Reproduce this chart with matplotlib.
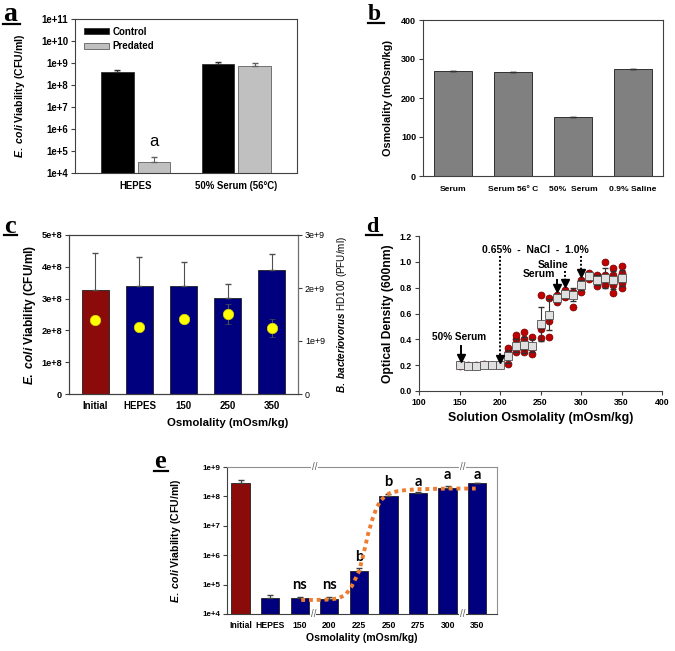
import matplotlib
matplotlib.use('Agg')
import matplotlib.pyplot as plt
import matplotlib.transforms as mtransforms
from matplotlib.lines import Line2D
import numpy as np

plt.rcParams['font.family'] = ['Liberation Sans', 'DejaVu Sans']
plt.rcParams['font.weight'] = 'bold'
plt.rcParams['font.size'] = 6.5
plt.rcParams['axes.labelweight'] = 'bold'
plt.rcParams['axes.linewidth'] = 0.8
plt.rcParams['mathtext.fontset'] = 'custom'
plt.rcParams['mathtext.it'] = 'Liberation Sans:italic:bold'
plt.rcParams['mathtext.rm'] = 'Liberation Sans:bold'

# ---------------- data ----------------
# panel a
a_groups = ['HEPES', '50% Serum (56°C)']
a_control = [3.7e8, 9.1e8]
a_control_err = [1.2e8, 1.9e8]
a_predated = [3.2e4, 7.4e8]
a_predated_err = [2.1e4, 2.4e8]
a_letter = ['a', '']
log_ticks_a = [1e4, 1e5, 1e6, 1e7, 1e8, 1e9, 1e10, 1e11]
log_labels_a = ['1e+4', '1e+5', '1e+6', '1e+7', '1e+8', '1e+9', '1e+10', '1e+11']

# panel b
b_cats = ['Serum', 'Serum 56° C', '50%  Serum', '0.9% Saline']
b_vals = [269, 266, 151, 274]
b_err = [1.5, 1.5, 0, 0]

# panel c
c_cats = ['Initial', 'HEPES', '150', '250', '350']
c_ecoli = [3.27e8, 3.41e8, 3.41e8, 3.03e8, 3.90e8]
c_ecoli_err = [1.15e8, 0.91e8, 0.74e8, 0.42e8, 0.50e8]
c_bdello = [1.39e9, 1.26e9, 1.41e9, 1.51e9, 1.24e9]
c_bdello_err = [0, 0, 0, 0.18e9, 0.17e9]

# panel d
d_x = [150, 160, 170, 180, 190, 200, 210, 220, 230, 240, 250,
       260, 270, 280, 290, 300, 310, 320, 330, 340, 350]
d_mean = [0.20, 0.195, 0.195, 0.20, 0.20, 0.205, 0.27, 0.35, 0.355, 0.35, 0.52,
          0.59, 0.72, 0.75, 0.745, 0.82, 0.89, 0.86, 0.875, 0.86, 0.875]
d_sd = [0.01, 0.01, 0.01, 0.01, 0.01, 0.01, 0.05, 0.05, 0.06, 0.05, 0.13,
        0.12, 0.03, 0.03, 0.05, 0.04, 0.02, 0.04, 0.075, 0.07, 0.065]
d_points = [
    [0.19, 0.20, 0.21], [0.19, 0.20], [0.19, 0.20], [0.20, 0.21], [0.20, 0.20],
    [0.20, 0.21], [0.21, 0.27, 0.30, 0.33], [0.30, 0.34, 0.40, 0.43],
    [0.30, 0.34, 0.40, 0.46], [0.29, 0.33, 0.35, 0.42], [0.41, 0.48, 0.50, 0.74],
    [0.42, 0.54, 0.58, 0.72], [0.69, 0.72, 0.74], [0.73, 0.76, 0.78],
    [0.65, 0.74, 0.77], [0.77, 0.82, 0.86], [0.87, 0.90, 0.91],
    [0.81, 0.86, 0.89, 0.90], [0.82, 0.87, 0.90, 1.00],
    [0.76, 0.82, 0.86, 0.90, 0.95], [0.80, 0.84, 0.88, 0.91, 0.97]]

# panel e
e_cats = ['Initial', 'HEPES', '150', '200', '225', '250', '275', '300', '350']
e_vals = [2.9e8, 3.4e4, 3.4e4, 3.2e4, 2.8e5, 1.07e8, 1.26e8, 1.95e8, 2.75e8]
e_err = [0.6e8, 1.0e4, 0.4e4, 0.5e4, 0.8e5, 0.18e8, 0.17e8, 0.35e8, 0.2e8]
e_letters = ['', '', 'ns', 'ns', 'b', 'b', 'a', 'a', 'a']
e_letter_y = [0, 0, 1.0e5, 1.0e5, 9.0e5, 3.2e8, 3.2e8, 5.2e8, 5.2e8]
e_fit_x = [2.05, 2.5, 3.0, 3.3, 3.55, 3.75, 3.9, 4.0, 4.1, 4.2, 4.3, 4.45, 4.6,
           4.75, 4.9, 5.05, 5.3, 5.6, 6.0, 7.0, 7.95]
e_fit_y = [3.0e4, 3.0e4, 3.1e4, 3.4e4, 4.5e4, 8.5e4, 1.7e5, 2.8e5, 6.5e5, 1.7e6,
           4.8e6, 1.6e7, 4.2e7, 7.5e7, 1.05e8, 1.3e8, 1.5e8, 1.65e8, 1.75e8,
           1.85e8, 1.85e8]
log_ticks_e = [1e4, 1e5, 1e6, 1e7, 1e8, 1e9]
log_labels_e = ['1e+4', '1e+5', '1e+6', '1e+7', '1e+8', '1e+9']

DARKRED = '#8B0A0A'
NAVY = '#00007F'
SPINE = '#404040'

W, H = 675, 651
fig = plt.figure(figsize=(W / 100, H / 100), dpi=100)


def rect(x0, x1, y0, y1):
    return [x0 / W, 1 - y1 / H, (x1 - x0) / W, (y1 - y0) / H]


def style(ax, spines=('left', 'bottom', 'top', 'right'), size=6.5):
    for s in ['left', 'bottom', 'top', 'right']:
        if s in spines:
            ax.spines[s].set_color(SPINE)
        else:
            ax.spines[s].set_visible(False)
    ax.tick_params(direction='out', length=3, width=0.8, color=SPINE, pad=2,
                   labelsize=size)


def panel_label(ch, x, y, size, uw):
    fig.text(x / W, 1 - y / H, ch, family='Liberation Serif', weight='bold',
             size=size, ha='left', va='baseline')
    fig.add_artist(Line2D([x / W, (x + uw) / W], [1 - (y + 2.5) / H] * 2,
                          color='black', lw=1.6))


ECOLI = r'$\mathit{E.\ coli}$ Viability (CFU/ml)'

# ---------------- panel a ----------------
axa = fig.add_axes(rect(75, 297, 19, 173))
xa = np.arange(len(a_groups))
axa.bar(xa - 0.18, a_control, 0.32, color='black', edgecolor='#303030',
        lw=0.6, yerr=[[0] * 2, a_control_err], error_kw=dict(ecolor='#303030', lw=0.8, capsize=2),
        label='Control')
axa.bar(xa + 0.18, a_predated, 0.32, color='#C0C0C0', edgecolor='#606060',
        lw=0.6, yerr=[[0] * 2, a_predated_err], error_kw=dict(ecolor='#606060', lw=0.8, capsize=2),
        label='Predated')
axa.set_yscale('log')
axa.set_ylim(1e4, 1e11)
axa.set_xlim(-0.6, 1.6)
axa.set_yticks(log_ticks_a)
axa.set_yticklabels(log_labels_a)
axa.minorticks_off()
axa.set_xticks(xa)
style(axa, size=6.9)
axa.set_xticklabels(a_groups, fontsize=6.9)
axa.tick_params(axis='x', length=0, pad=6)
axa.set_ylabel(ECOLI, fontsize=7.6)
axa.yaxis.set_label_coords(-0.215, 0.5)
for i, t in enumerate(a_letter):
    if t:
        axa.text(xa[i] + 0.18, 2.8e5, t, ha='center', va='center', fontsize=12,
                 weight='normal')
axa.legend(loc='upper left', bbox_to_anchor=(0.04, 0.95), frameon=False,
           fontsize=7, handlelength=2.6, handleheight=0.55, borderpad=0,
           handletextpad=0.35, labelspacing=0.45, borderaxespad=0)

# ---------------- panel b ----------------
axb = fig.add_axes(rect(423, 663, 20, 176))
xb = np.arange(len(b_cats))
axb.bar(xb, b_vals, 0.62, color='#808080', edgecolor='#303030', lw=0.7,
        yerr=[[0] * 4, b_err], error_kw=dict(ecolor='#303030', lw=0.8, capsize=2))
axb.set_xlim(-0.5, 3.5)
axb.set_ylim(0, 400)
axb.set_yticks([0, 100, 200, 300, 400])
axb.set_xticks(xb)
style(axb, size=6.5)
axb.set_xticklabels(b_cats, fontsize=6.1)
axb.tick_params(axis='x', length=0, pad=7)
axb.set_ylabel('Osmolality (mOsm/kg)', fontsize=7.8)
axb.yaxis.set_label_coords(-0.125, 0.5)

# ---------------- panel c ----------------
axc = fig.add_axes(rect(69, 298, 235, 394))
xc = np.arange(len(c_cats))
axc.bar(xc, c_ecoli, 0.62, color=[DARKRED] + [NAVY] * 4, edgecolor='#202020', lw=0.6,
        yerr=[[0] * 5, c_ecoli_err], error_kw=dict(ecolor='#505050', lw=0.8, capsize=2))
axc.set_xlim(-0.6, 4.6)
axc.set_ylim(0, 5e8)
axc.set_yticks([0, 1e8, 2e8, 3e8, 4e8, 5e8])
axc.set_yticklabels(['0', '1e+8', '2e+8', '3e+8', '4e+8', '5e+8'])
axc.set_xticks(xc)
style(axc, size=6.6)
axc.set_xticklabels(c_cats, fontsize=7)
axc.tick_params(axis='x', length=0, pad=5)
axc.set_ylabel(ECOLI, fontsize=8.6)
axc.yaxis.set_label_coords(-0.135, 0.5)
axc.set_xlabel('Osmolality (mOsm/kg)', fontsize=8.2)
axc.xaxis.set_label_coords(0.694, -0.15)
axc2 = axc.twinx()
axc2.set_ylim(0, 3e9)
axc2.set_yticks([0, 1e9, 2e9, 3e9])
axc2.set_yticklabels(['0', '1e+9', '2e+9', '3e+9'])
axc2.errorbar(xc, c_bdello, yerr=c_bdello_err, fmt='o', ms=7.5, mfc='#FFFF00',
              mec='#D8D800', mew=0.5, ecolor='#505050', elinewidth=0.8, capsize=2)
style(axc2, size=6.4)
axc2.spines['right'].set_color('#707070')
axc2.set_ylabel(r'$\mathit{B.\ bacteriovorus}$ HD100 (PFU/ml)', fontsize=7.1,
                rotation=90)
axc2.yaxis.set_label_coords(1.16, 0.5)
for lab in axc2.get_yticklabels():
    lab.set_fontweight('normal')
axc2.yaxis.label.set_fontweight('normal')

# ---------------- panel d ----------------
axd = fig.add_axes(rect(419, 662, 236, 391))
for xv, pts in zip(d_x, d_points):
    axd.scatter([xv] * len(pts), pts, s=25, color='#C00000', edgecolor='#700000',
                lw=0.5, zorder=2)
axd.errorbar(d_x, d_mean, yerr=d_sd, fmt='none', ecolor='#303030', elinewidth=0.8,
             capsize=2, zorder=3)
axd.plot(d_x, d_mean, 's', ms=5.6, mfc='#E0E0E0', mec='#505050', mew=0.6, zorder=4,
         ls='none')
axd.set_xlim(100, 400)
axd.set_ylim(0, 1.2)
axd.set_xticks([100, 150, 200, 250, 300, 350, 400])
axd.set_yticks([0.0, 0.2, 0.4, 0.6, 0.8, 1.0, 1.2])
axd.set_yticklabels(['0.0', '0.2', '0.4', '0.6', '0.8', '1.0', '1.2'])
style(axd, spines=('left', 'bottom'), size=6.3)
axd.set_ylabel('Optical Density (600nm)', fontsize=8.7)
axd.yaxis.set_label_coords(-0.103, 0.5)
axd.set_xlabel('Solution Osmolality (mOsm/kg)', fontsize=8.9)
axd.xaxis.set_label_coords(0.5, -0.135)


def d_arrow(x, ytop, ytip, dotted):
    axd.plot([x, x], [ytop, ytip + 0.04], color='black', lw=1.4,
             ls=(0, (1, 1)) if dotted else '-', zorder=5)
    axd.plot([x], [ytip + 0.022], marker='v', ms=6, color='black', zorder=5)


axd.text(149, 0.42, '50% Serum', ha='center', va='center', fontsize=7.2)
d_arrow(152, 0.35, 0.23, False)
axd.text(244, 1.09, '0.65%  -  NaCl  -  1.0%', ha='center', va='center', fontsize=7.5)
d_arrow(200, 1.045, 0.225, True)
d_arrow(300, 1.045, 0.895, True)
axd.text(266, 0.975, 'Saline', ha='center', va='center', fontsize=7.5)
d_arrow(280, 0.93, 0.815, True)
axd.text(248, 0.905, 'Serum', ha='center', va='center', fontsize=7.5)
d_arrow(270, 0.86, 0.775, False)

# ---------------- panel e ----------------
axe = fig.add_axes(rect(227, 497, 467, 614))
xe = np.arange(len(e_cats))
axe.bar(xe, e_vals, 0.62, color=[DARKRED] + [NAVY] * 8, edgecolor='#202020', lw=0.6,
        yerr=[[0] * 9, e_err], error_kw=dict(ecolor='#404040', lw=0.8, capsize=2))
axe.plot(e_fit_x, e_fit_y, color='#ED7D31', lw=2.8, ls=(0, (1, 1.0)),
         dash_capstyle='butt', zorder=4)
axe.set_yscale('log')
axe.set_ylim(1e4, 1e9)
axe.set_xlim(-0.46, 8.67)
axe.set_yticks(log_ticks_e)
axe.set_yticklabels(log_labels_e)
axe.minorticks_off()
axe.set_xticks(xe)
style(axe, size=5.8)
axe.set_xticklabels(e_cats, fontsize=6.2)
for s in ['top', 'right']:
    axe.spines[s].set_color('#909090')
axe.tick_params(axis='x', length=0, pad=5)
axe.set_ylabel(ECOLI, fontsize=7.6)
axe.yaxis.set_label_coords(-0.163, 0.5)
axe.set_xlabel('Osmolality (mOsm/kg)', fontsize=7.6)
axe.xaxis.set_label_coords(0.5, -0.13)
for i, t in enumerate(e_letters):
    if t:
        axe.text(xe[i], e_letter_y[i], t, ha='center', va='center', fontsize=10.5,
                 family=['Lato', 'DejaVu Sans'], weight='bold')
trans = mtransforms.blended_transform_factory(axe.transData, axe.transAxes)
for bx, by in [(2.5, 1.0), (7.5, 1.0), (2.46, 0.0), (7.5, 0.0)]:
    axe.text(bx, by, '//', transform=trans, ha='center', va='center', fontsize=7,
             color='#606060', weight='normal', zorder=10, clip_on=False,
             bbox=dict(fc='white', ec='none', pad=0.3))

# ---------------- panel labels ----------------
panel_label('a', 3, 21, 20, 17)
panel_label('b', 368, 20, 17, 16)
panel_label('c', 4, 233, 19, 13)
panel_label('d', 366, 232, 16, 16)
panel_label('e', 154, 468, 19, 14)

fig.savefig('out.png', dpi=100)
